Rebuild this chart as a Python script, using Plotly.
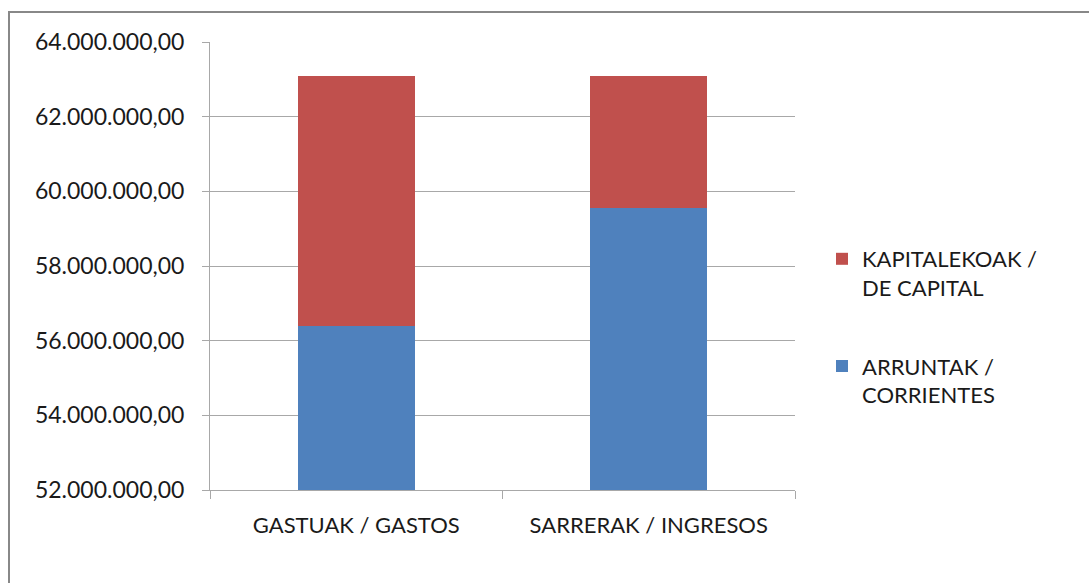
import plotly.graph_objects as go

# Budget categories and their components (euros)
categories = ["GASTUAK / GASTOS", "SARRERAK / INGRESOS"]
arruntak = [56_390_000, 59_560_000]        # ARRUNTAK / CORRIENTES
kapitalekoak = [6_710_000, 3_540_000]      # KAPITALEKOAK / DE CAPITAL
y_ticks = [52_000_000, 54_000_000, 56_000_000, 58_000_000,
           60_000_000, 62_000_000, 64_000_000]
y_tick_text = ["52.000.000,00", "54.000.000,00", "56.000.000,00", "58.000.000,00",
               "60.000.000,00", "62.000.000,00", "64.000.000,00"]

FONT = "Lato"
TXT = "#1a1a1a"
GRID = "#a8a8a8"

fig = go.Figure()
fig.add_trace(go.Bar(
    x=categories, y=arruntak, name="ARRUNTAK /<br>CORRIENTES",
    marker=dict(color="#4F81BD", line=dict(width=0)),
    legendgroup="a", legendrank=2,
))
fig.add_trace(go.Bar(
    x=categories, y=kapitalekoak, name="KAPITALEKOAK /<br>DE CAPITAL",
    marker=dict(color="#C0504D", line=dict(width=0)),
    legendgroup="k", legendrank=1,
))

W, H = 1089, 583
L, R, T, B = 210, 795, 42, 490
pw, ph = R - L, B - T


def px_x(x):
    return (x - L) / pw


def px_y(y):
    return (B - y) / ph


fig.update_layout(
    width=W, height=H,
    margin=dict(l=L, r=W - R, t=T, b=H - B),
    paper_bgcolor="white", plot_bgcolor="white",
    barmode="stack", bargap=0.6,
    font=dict(family=FONT, size=22, color=TXT),
    showlegend=True,
    legend=dict(
        x=px_x(822), y=px_y(238), xanchor="left", yanchor="top",
        traceorder="grouped", valign="top", tracegroupgap=47,
        font=dict(family=FONT, size=22, color=TXT),
        itemwidth=30, bgcolor="rgba(0,0,0,0)",
    ),
    xaxis=dict(
        type="category", showgrid=False, showline=True, linecolor=GRID, linewidth=1,
        ticks="outside", tickson="boundaries", ticklen=8, tickcolor=GRID,
        tickfont=dict(family=FONT, size=22, color=TXT), ticklabelstandoff=16,
    ),
    yaxis=dict(
        range=[52_000_000, 64_000_000], tickvals=y_ticks, ticktext=y_tick_text,
        showgrid=True, gridcolor=GRID, gridwidth=1,
        showline=True, linecolor=GRID, linewidth=1,
        ticks="outside", ticklen=7, tickcolor=GRID,
        tickfont=dict(family=FONT, size=23, color=TXT), ticklabelstandoff=13,
        zeroline=False,
    ),
    shapes=[dict(
        type="rect", xref="paper", yref="paper",
        x0=px_x(9), x1=px_x(1120), y0=px_y(620), y1=px_y(12),
        line=dict(color="#888888", width=2), fillcolor="rgba(0,0,0,0)", layer="above",
    )],
)

fig.write_html("out.html")
